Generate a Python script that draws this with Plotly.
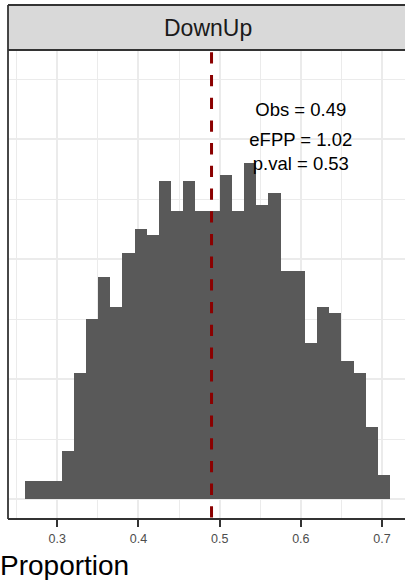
import plotly.graph_objects as go

# ---- data ----
counts = [3, 3, 3, 8, 21, 30, 37, 32, 41, 45, 44, 53, 48, 53, 48, 48,
          54, 48, 56, 49, 51, 38, 38, 26, 32, 31, 23, 21, 12, 4]
bin_start = 0.26021
bin_width = 0.014992
obs_value = 0.49
stat_labels = ["Obs = 0.49", "eFPP = 1.02", "p.val = 0.53"]
stat_y = [64.67, 59.67, 55.67]
stat_x = 0.6
panel_title = "DownUp"
x_title = "Proportion"
x_ticks = [0.3, 0.4, 0.5, 0.6, 0.7]
x_ticklabels = ["0.3", "0.4", "0.5", "0.6", "0.7"]

centers = [bin_start + bin_width * (i + 0.5) for i in range(len(counts))]

FONT = "Liberation Sans, Arial, Helvetica, sans-serif"
xr = [0.23927, 0.72834]
yr = [-3.333, 74.833]

fig = go.Figure()
fig.add_trace(go.Bar(
    x=centers, y=counts, width=bin_width,
    marker=dict(color="#595959", line=dict(width=0)),
    hoverinfo="skip", showlegend=False,
))

# vertical dashed line at observed value
fig.add_trace(go.Scatter(
    x=[obs_value, obs_value], y=[yr[1] - 0.38, yr[0]],
    mode="lines", line=dict(color="#8B0000", width=3, dash="11.3px,11.4px"),
    hoverinfo="skip", showlegend=False, cliponaxis=True,
))

# stats text
fig.add_trace(go.Scatter(
    x=[stat_x] * len(stat_labels), y=stat_y, mode="text", text=stat_labels,
    textfont=dict(family=FONT, size=18.5, color="#000000"),
    textposition="middle center", hoverinfo="skip", showlegend=False,
))

strip_h = 45 / 469
BC = "#333333"
BW = 1.8

fig.update_layout(
    width=405, height=580,
    margin=dict(l=8, r=0, t=50, b=61),
    plot_bgcolor="white", paper_bgcolor="white",
    bargap=0,
    xaxis=dict(
        range=xr, tickmode="array", tickvals=x_ticks, ticktext=x_ticklabels,
        ticks="outside", ticklen=7, tickwidth=1.8, tickcolor=BC,
        tickfont=dict(family=FONT, size=12.5, color="#4D4D4D"),
        ticklabelstandoff=1,
        showgrid=True, gridcolor="#EBEBEB", gridwidth=1.7,
        minor=dict(tickmode="array", tickvals=[0.25, 0.35, 0.45, 0.55, 0.65],
                   showgrid=True, gridcolor="#EBEBEB", gridwidth=0.9, ticks=""),
        zeroline=False, showline=False, fixedrange=True,
    ),
    yaxis=dict(
        range=yr, tickmode="array", tickvals=[0, 20, 40, 60],
        showticklabels=False, ticks="",
        showgrid=True, gridcolor="#EBEBEB", gridwidth=1.7,
        minor=dict(tickmode="array", tickvals=[10, 30, 50, 70],
                   showgrid=True, gridcolor="#EBEBEB", gridwidth=0.9, ticks=""),
        zeroline=False, showline=False, fixedrange=True,
    ),
    shapes=[
        # strip fill
        dict(type="rect", xref="paper", yref="paper", x0=0, x1=1, y0=1, y1=1 + strip_h,
             line=dict(width=0), fillcolor="#D9D9D9", layer="above"),
        # strip top
        dict(type="line", xref="paper", yref="paper", x0=0, x1=1, y0=1 + strip_h, y1=1 + strip_h,
             line=dict(color=BC, width=BW), layer="above"),
        # strip bottom / panel top
        dict(type="line", xref="paper", yref="paper", x0=0, x1=1, y0=1, y1=1,
             line=dict(color=BC, width=BW), layer="above"),
        # left border (strip + panel)
        dict(type="line", xref="paper", yref="paper", x0=0, x1=0, y0=0, y1=1 + strip_h,
             line=dict(color=BC, width=BW), layer="above"),
        # bottom border
        dict(type="line", xref="paper", yref="paper", x0=0, x1=1, y0=0, y1=0,
             line=dict(color=BC, width=BW), layer="above"),
    ],
    annotations=[
        dict(text=panel_title, xref="x", yref="paper", x=(0.2376 + 0.7332) / 2,
             y=1 + strip_h / 2, xanchor="center", yanchor="middle", showarrow=False,
             font=dict(family=FONT, size=23, color="#1A1A1A")),
        dict(text=x_title, xref="paper", yref="paper", x=0, xshift=-10.5,
             y=0, yshift=-46, xanchor="left", yanchor="middle", showarrow=False,
             font=dict(family=FONT, size=28, color="#000000")),
    ],
)

fig.write_html("out.html")
